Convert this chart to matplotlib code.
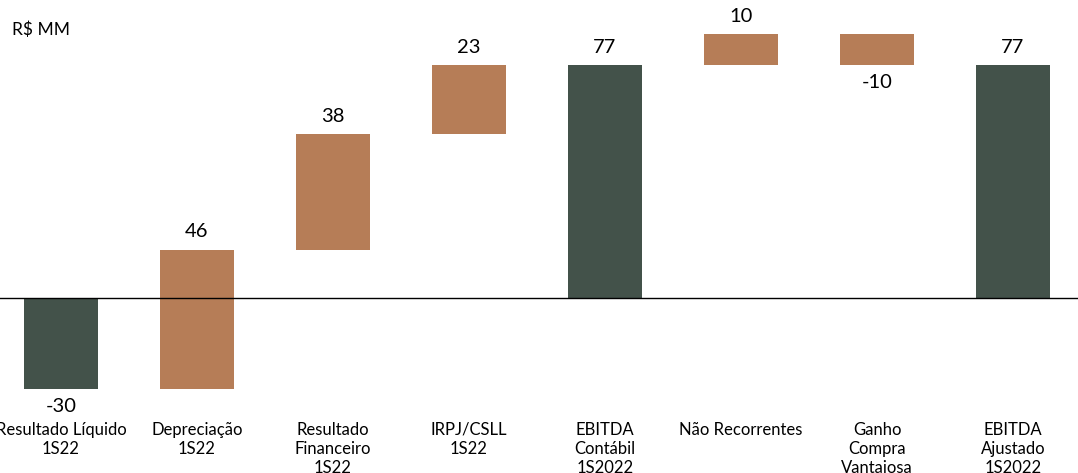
import matplotlib
matplotlib.use("Agg")
import matplotlib.pyplot as plt

# Waterfall data (R$ MM)
categories = ["Resultado Líquido\n1S22", "Depreciação\n1S22", "Resultado\nFinanceiro\n1S22",
              "IRPJ/CSLL\n1S22", "EBITDA\nContábil\n1S2022", "Não Recorrentes",
              "Ganho\nCompra\nVantajosa", "EBITDA\nAjustado\n1S2022"]
values = [-30, 46, 38, 23, 77, 10, -10, 77]
is_total = [True, False, False, False, True, False, False, True]

DARK = "#43524A"
BROWN = "#B67D57"

plt.rcParams['font.family'] = ['Lato', 'DejaVu Sans']

fig = plt.figure(figsize=(10.78, 4.73), dpi=100)
ax = fig.add_axes([0, 0, 1, 1])

running = 0
for i, (v, tot) in enumerate(zip(values, is_total)):
    if tot:
        bottom = 0
        running = v
    else:
        bottom = running
        running += v
    color = DARK if tot else BROWN
    ax.bar(i, v, bottom=bottom, width=0.55, color=color, zorder=2)
    top = max(bottom, bottom + v)
    low = min(bottom, bottom + v)
    if v >= 0:
        ax.text(i, top + 3, f"{v}", ha="center", va="bottom", fontsize=14.5)
    else:
        ax.text(i, low - 3, f"{v}", ha="center", va="top", fontsize=14.5)
    ax.text(i, -40.8, categories[i], ha="center", va="top", fontsize=12,
            linespacing=1.25)

ax.axhline(0, color="black", linewidth=1, zorder=3)
ax.text(12 / 1078, 1 - 30 / 473, "R$ MM", transform=ax.transAxes,
        ha="left", va="center", fontsize=12.5)

ax.set_xlim(-61 / 136, (1078 - 61) / 136)
ax.set_ylim(-175 / 3.03, 298 / 3.03)
ax.axis("off")

fig.savefig("out.png", dpi=100)
